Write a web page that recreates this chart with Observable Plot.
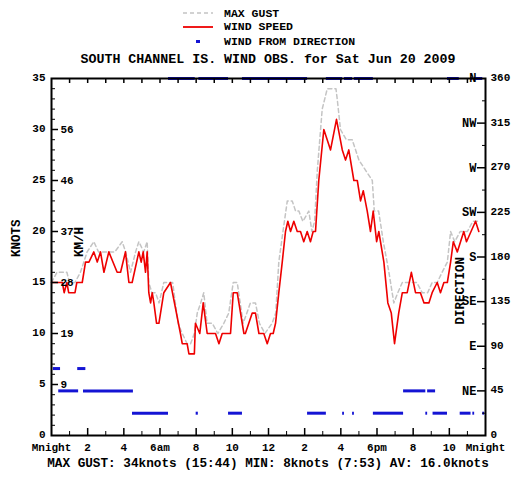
<!DOCTYPE html>
<html><head><meta charset="utf-8">
<script src="https://cdn.jsdelivr.net/npm/d3@7"></script>
<script src="https://cdn.jsdelivr.net/npm/@observablehq/plot@0.6"></script>
<style>
html,body{margin:0;padding:0;background:#fff;}
body{font-family:"Liberation Mono",monospace;font-weight:bold;color:#000;}
#wrap{position:relative;width:524px;height:484px;overflow:hidden;}
#head{position:relative;height:68px;}
.leg{position:absolute;left:181px;height:14px;display:flex;align-items:center;font-size:11.5px;}
.leg svg{width:34px;height:14px;margin-right:9px;}
#title{position:absolute;top:52px;left:0;width:524px;box-sizing:border-box;padding-left:12px;text-align:center;font-size:13.3px;line-height:16px;white-space:nowrap;}
#cap{width:524px;box-sizing:border-box;padding-left:12px;text-align:center;font-size:12.7px;line-height:16px;white-space:nowrap;}
</style></head><body>
<div id="wrap">
  <div id="head"></div>
  <div id="chart"></div>
  <div id="cap"></div>
</div>
<script>
// ---------- data ----------
const titleText = "SOUTH CHANNEL IS. WIND OBS. for Sat Jun 20 2009";
const captionText = "MAX GUST: 34knots (15:44) MIN: 8knots (7:53) AV: 16.0knots";
const legendLabels = ["MAX GUST", "WIND SPEED", "WIND FROM DIRECTION"];

// wind speed (knots) vs hour of day
const speedHours = [0,0.6,0.7,0.85,0.95,1.3,1.4,1.7,1.88,2.07,2.34,2.53,2.71,2.9,3.17,3.63,3.82,4.09,4.28,4.46,4.83,4.96,5.07,5.2,5.29,5.38,5.48,5.57,5.66,5.81,5.94,6.21,6.58,7.13,7.23,7.5,7.6,7.9,7.96,8.2,8.39,8.61,9.07,9.26,9.44,9.9,10.05,10.27,10.64,10.72,11.1,11.28,11.47,11.74,11.93,12.11,12.26,12.39,12.57,12.76,12.94,13.07,13.22,13.4,13.59,13.77,13.95,14.14,14.32,14.47,14.6,14.78,15.06,15.43,15.76,16.08,16.26,16.44,16.72,16.91,17.09,17.24,17.46,17.64,17.79,17.98,18.1,18.38,18.6,18.79,18.97,19.2,19.4,19.67,19.9,20.13,20.4,20.6,20.87,21.05,21.33,21.51,21.7,21.89,22.07,22.22,22.44,22.62,22.8,22.95,23.45,23.63];
const speedKnots = [15,15,14,15,14,14,15,15,17,17,18,17,18,16,18,16,16,18,15,15,18,17,18,16,18,14,13,14,13,11,11,14,15,10,9,9,8,8,11,10,13,10,10,9,10,10,14,14,10,10,12,12,10,10,9,10,10,11,14,17,20,21,20,21,20,20,19,20,19,20,20,25,30,28,31,28,27,28,25,25,23,24,22,20,22,19,20,17,13,12,9,12,14,14,16,14,14,13,13,14,15,14,15,15,17,19,18,19,20,19,21,20];

// max gust (knots) vs hour of day
const gustHours = [0,0.3,0.5,0.7,0.85,1.0,1.3,1.6,1.97,2.34,2.6,2.9,3.2,3.5,3.91,4.1,4.37,4.65,4.83,5.1,5.29,5.38,5.55,5.75,5.95,6.21,6.49,6.7,7.0,7.23,7.5,7.69,7.9,8.06,8.25,8.42,8.6,8.89,9.2,9.53,9.8,10.05,10.27,10.6,11.0,11.28,11.5,11.8,12.2,12.4,12.57,12.8,13.04,13.31,13.5,13.68,13.9,14.23,14.4,14.55,14.7,14.97,15.25,15.6,15.73,15.8,15.98,16.3,16.63,17.0,17.37,17.74,17.85,18.09,18.35,18.66,18.93,19.15,19.4,19.67,19.9,20.2,20.5,20.8,21.05,21.33,21.6,21.89,22.07,22.3,22.6,22.8,23.0,23.3,23.5,23.63];
const gustKnots = [15,16,16,16,16,15,15,16,18,19,18,18,18,18,19,18,16,18,19,18,19,15,14,14,13,15,15,15,11,10,9,9,10,12,13,14,11,11,10,11,12,15,15,11,13,13,11,10,11,12,17,20,23,23,22,22,21,22,20,21,26,32,34,34,34,33,30,29,29,27,26,25,22,22,19,16,13,14,15,15,15,15,14,14,15,15,16,17,20,19,20,20,20,21,21,21];

// wind-from direction runs: start hour, end hour, degrees
const dirStart = [0.1,1.45, 0.4,1.77,19.47,20.8, 4.48,8.0,9.79,14.16,16.1,16.65,17.8,20.7,21.1,22.6,23.3,23.85, 6.47,8.15,10.56,15.2,16.2,16.75,21.9,23.2,23.4];
const dirEnd   = [0.5,1.9, 1.5,4.53,20.7,21.24, 6.47,8.12,10.56,15.2,16.2,16.75,19.47,20.8,21.9,23.2,23.4,23.95, 7.95,9.79,14.16,16.1,16.65,17.8,22.55,23.3,23.85];
const dirDeg   = [67.5,67.5, 45,45,45,45, 22.5,22.5,22.5,22.5,22.5,22.5,22.5,22.5,22.5,22.5,22.5,22.5, 360,360,360,360,360,360,360,360,360];

// axes
const knotTicks = [0,5,10,15,20,25,30,35];
const kmhKnots = [5,10,15,20,25,30];
const kmhLabels = ["9","19","28","37","46","56"];
const degTicks = [0,45,90,135,180,225,270,315,360];
const compassDeg = [45,90,135,180,225,270,315,360];
const compassNames = ["NE","E","SE","S","SW","W","NW","N"];
const hourLabelPos = [0,2,4,6,8,10,12,14,16,18,20,22,24];
const hourLabels = ["Mnight","2","4","6am","8","10","12","2","4","6pm","8","10","Mnight"];

// ---------- build ----------
const speed = speedHours.map((h,i)=>({h, v: speedKnots[i]}));
const gust = gustHours.map((h,i)=>({h, v: gustKnots[i]}));
const dirs = dirStart.map((s,i)=>({s, e: dirEnd[i], deg: dirDeg[i]}));
const K = 35/360; // direction 0..360 shares the knots axis 0..35

const BLUE = "#1414d4", RED = "#ee0000", GREY = "#c4c4c4";

// header: legend + title
const head = document.getElementById("head");
const swatches = [
  `<svg><line x1="2" y1="7" x2="32" y2="7" stroke="${GREY}" stroke-width="1.5" stroke-dasharray="4,3"/></svg>`,
  `<svg><line x1="2" y1="7" x2="32" y2="7" stroke="${RED}" stroke-width="1.8"/></svg>`,
  `<svg><rect x="15" y="6" width="4" height="3" fill="${BLUE}"/></svg>`
];
const legTops = [6, 19.5, 34];
legendLabels.forEach((t,i)=>{
  const d = document.createElement("div");
  d.className = "leg"; d.style.top = legTops[i] + "px";
  d.innerHTML = swatches[i] + `<span>${t}</span>`;
  head.appendChild(d);
});
const ti = document.createElement("div"); ti.id = "title"; ti.textContent = titleText; head.appendChild(ti);
document.getElementById("cap").textContent = captionText;

const W = 524, H = 388, mT = 10, mB = 21, mL = 51, mR = 39;
const iW = W - mL - mR, iH = H - mT - mB;
const hoursAll = d3.range(1, 24);
const evenH = hoursAll.filter(h => h % 2 === 0), oddH = hoursAll.filter(h => h % 2 === 1);
const knotMinor = d3.range(1, 35).filter(v => v % 5 !== 0);
const knotMajor = [5,10,15,20,25,30];
const degMinor = d3.range(22.5, 360, 45).map(d => d*K);
const degMajor = [45,90,135,180,225,270,315].map(d => d*K);

const chart = Plot.plot({
  width: W, height: H,
  marginTop: mT, marginBottom: mB, marginLeft: mL, marginRight: mR,
  style: {fontFamily: "Liberation Mono, monospace", fontSize: "11px", fontWeight: "bold", background: "white", color: "black", overflow: "visible"},
  x: {domain: [0, 24], axis: null},
  y: {domain: [0, 35], axis: null},
  marks: [
    Plot.line(gust, {x: "h", y: "v", stroke: GREY, strokeWidth: 1.5, strokeDasharray: "4,3"}),
    Plot.line(speed, {x: "h", y: "v", stroke: RED, strokeWidth: 1.6}),
    Plot.ruleY(dirs, {y: d => d.deg*K, x1: "s", x2: "e", stroke: BLUE, strokeWidth: 3}),
    // left knots axis
    Plot.axisY(knotTicks, {anchor: "left", tickSize: 0, tickPadding: 6, label: null, tickFormat: d => d, dy: -1}),
    Plot.tickY(knotMinor, {y: d => d, insetRight: iW - 4, stroke: "black"}),
    Plot.tickY(knotMajor, {y: d => d, insetRight: iW - 7, stroke: "black", strokeWidth: 1.5}),
    Plot.text(kmhKnots, {y: d => d, text: (d,i) => kmhLabels[i], frameAnchor: "left", dx: 9, textAnchor: "start"}),
    // right direction axis
    Plot.axisY(degTicks.map(d => d*K), {anchor: "right", tickSize: 0, tickPadding: 5, label: null, tickFormat: v => String(Math.round(v / K)), dy: -1}),
    Plot.tickY(degMinor, {y: d => d, insetLeft: iW - 3, stroke: "black"}),
    Plot.tickY(degMajor, {y: d => d, insetLeft: iW - 8, stroke: "black", strokeWidth: 1.5}),
    Plot.text(compassDeg, {y: d => d*K, text: (d,i) => compassNames[i], frameAnchor: "right", dx: -9, textAnchor: "end", fontSize: 12}),
    // x axis
    Plot.axisX(hourLabelPos, {anchor: "bottom", tickSize: 0, tickPadding: 8, label: null, tickFormat: (d,i) => hourLabels[i]}),
    Plot.tickX(evenH, {x: d => d, insetTop: iH - 7, stroke: "black", strokeWidth: 1.5}),
    Plot.tickX(oddH, {x: d => d, insetTop: iH - 4, stroke: "black"}),
    Plot.tickX(hoursAll, {x: d => d, insetBottom: iH - 5, stroke: "black", strokeWidth: 1.5}),
    Plot.frame({stroke: "black", strokeWidth: 2}),
    // axis titles
    Plot.text(["KNOTS"], {text: d => d, frameAnchor: "left", dx: -36, rotate: -90, fontSize: 12.5}),
    Plot.text(["KM/H"], {text: d => d, frameAnchor: "left", dx: 27, rotate: -90, fontSize: 12.5}),
    Plot.text(["DIRECTION"], {text: d => d, frameAnchor: "right", dx: -26, rotate: -90, fontSize: 12.5})
  ]
});
document.getElementById("chart").appendChild(chart);
</script>
</body></html>
